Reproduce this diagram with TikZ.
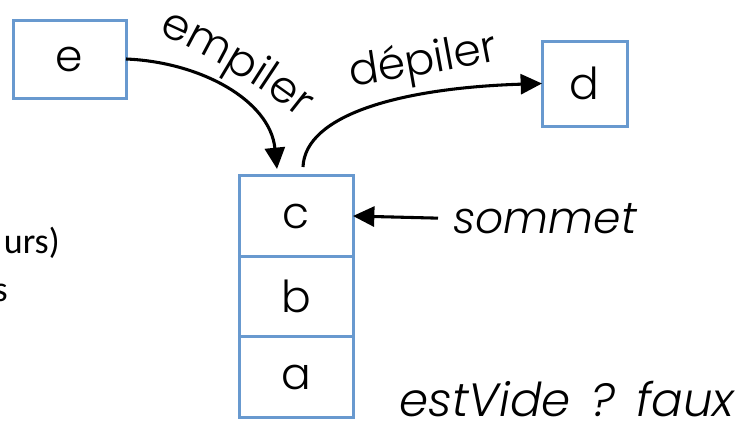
\documentclass[tikz,border=0pt]{standalone}
\usepackage{fontspec}
\setmainfont{Poppins}[UprightFont=* Light, ItalicFont=* Light Italic]
\newfontfamily\calib{Carlito}
\usetikzlibrary{arrows.meta,decorations.text}
\definecolor{boxblue}{RGB}{104,153,207}
\newcommand{\bigfont}{\fontsize{33}{38}\selectfont}
\begin{document}
\begin{tikzpicture}[x=0.75pt,y=-0.75pt,
  cellbox/.style={draw=boxblue,line width=2.25pt,inner sep=0pt,outer sep=0pt,font=\bigfont},
  arr/.style={line width=2.3pt,-{Triangle[length=16pt,width=15pt]}},
  curvetext/.style={decorate,decoration={text along path,text align=center,text={|\bigfont|#1}}}
]
\useasboundingbox (0,0) rectangle (739,421);
\clip (0,0) rectangle (739,421);
% boxes
\node[cellbox,minimum width=84.75pt,minimum height=58.5pt] (e) at (69.5,59) {e};
\node[cellbox,minimum width=63.75pt,minimum height=63.75pt] (d) at (584.5,83.5) {d};
\node[cellbox,minimum width=85.5pt,minimum height=60.4pt] (c) at (296,216) {c};
\node[cellbox,minimum width=85.5pt,minimum height=60.4pt,anchor=north] (b) at (c.south) {b};
\node[cellbox,minimum width=85.5pt,minimum height=60.4pt,anchor=north] (a) at (b.south) {a};
% labels
\node[font=\bigfont\itshape,anchor=base west,inner sep=0pt] (sommet) at (453,233) {sommet};
\node[font=\fontsize{35}{40}\selectfont\itshape,anchor=base west,inner sep=0pt] (vide) at (399,416) {estVide\hspace{0.45em}?\hspace{0.45em}faux};
\node[font=\calib\fontsize{27}{31}\selectfont,anchor=base east,inner sep=0pt] (urs) at (60,253) {urs)};
\node[font=\calib\fontsize{27}{31}\selectfont,anchor=base east,inner sep=0pt] (s) at (8,301) {s};
% connector ends
\coordinate (pushin) at (277,169);
\coordinate (popout) at (303,167);
% arrows
\draw[arr] (e.east) .. controls (200,62) and (270,100) .. (pushin);
\draw[arr] (popout) .. controls (305,115) and (400,88) .. (d.west);
\draw[arr] (sommet.west -| 438,0) -- (c.east);
% curved texts
\path[curvetext=empiler] (154,32) .. controls (200,51) and (263,87) .. (303,121);
\path[curvetext=dépiler] (345,87) .. controls (400,79) and (450,70) .. (505,59);
\end{tikzpicture}
\end{document}
